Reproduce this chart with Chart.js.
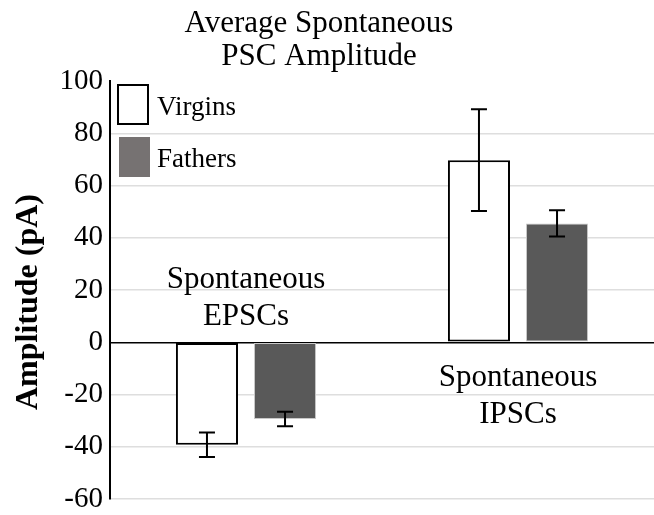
<!DOCTYPE html>
<html>
<head>
<meta charset="utf-8">
<script src="https://cdn.jsdelivr.net/npm/chart.js@4/dist/chart.umd.min.js"></script>
<style>
  body { margin: 0; background: #fff; font-family: "Liberation Serif", serif; }
  #wrap { width: 654px; height: 515px; overflow: hidden; }
</style>
</head>
<body>
<div id="wrap"><canvas id="psc" width="654" height="515"></canvas></div>
<script>
const categories = [["Spontaneous", "EPSCs"], ["Spontaneous", "IPSCs"]];
const virgins = [-39.2, 69.7];
const virginsErr = [4.7, 19.5];
const fathers = [-29.4, 45.5];
const fathersErr = [2.8, 5.0];
const yTicks = [-60, -40, -20, 0, 20, 40, 60, 80, 100];

const serif = "'Liberation Serif'";
const fatherFill = "#595959";
const fatherSwatch = "#767272";

// titles, legend, group labels and error bars
const decor = {
    id: "decor",
    afterDatasetsDraw(chart) {
        const { ctx, scales: { y } } = chart;
        ctx.save();

        // error bars
        ctx.strokeStyle = "#000";
        ctx.lineWidth = 2;
        chart.data.datasets.forEach((ds, i) => {
            chart.getDatasetMeta(i).data.forEach((bar, j) => {
                const v = ds.data[j], e = ds.errors[j];
                const top = y.getPixelForValue(v + e);
                const bot = y.getPixelForValue(v - e);
                ctx.beginPath();
                ctx.moveTo(bar.x, top); ctx.lineTo(bar.x, bot);
                ctx.moveTo(bar.x - 8, top); ctx.lineTo(bar.x + 8, top);
                ctx.moveTo(bar.x - 8, bot); ctx.lineTo(bar.x + 8, bot);
                ctx.stroke();
            });
        });

        ctx.fillStyle = "#000";
        ctx.textBaseline = "alphabetic";

        // group labels: above zero for negative groups, below for positive
        const zero = y.getPixelForValue(0);
        const meta0 = chart.getDatasetMeta(0);
        const meta1 = chart.getDatasetMeta(1);
        ctx.font = "31px " + serif;
        ctx.textAlign = "center";
        categories.forEach((lines, j) => {
            const cx = (meta0.data[j].x + meta1.data[j].x) / 2;
            const base = virgins[j] < 0 ? zero - 54 : zero + 44;
            lines.forEach((t, k) => ctx.fillText(t, cx, base + k * 37));
        });

        // chart title
        ctx.fillText("Average Spontaneous", 319, 32);
        ctx.fillText("PSC Amplitude", 319, 65);

        // y axis title
        ctx.save();
        ctx.translate(37, 302);
        ctx.rotate(-Math.PI / 2);
        ctx.font = "bold 32px " + serif;
        ctx.fillText("Amplitude (pA)", 0, 0);
        ctx.restore();

        // legend
        const lx = 109 + 8;
        ctx.lineWidth = 2;
        ctx.strokeStyle = "#000";
        ctx.strokeRect(lx + 1, 85, 30, 39);
        ctx.fillStyle = fatherSwatch;
        ctx.fillRect(lx + 2, 137, 31, 40);
        ctx.fillStyle = "#000";
        ctx.font = "27px " + serif;
        ctx.textAlign = "left";
        ctx.fillText(chart.data.datasets[0].label, lx + 40, 115);
        ctx.fillText(chart.data.datasets[1].label, lx + 40, 167);

        ctx.restore();
    }
};

function drawChart() {
    new Chart(document.getElementById("psc"), {
        type: "bar",
        data: {
            labels: categories,
            datasets: [
                {
                    label: "Virgins",
                    data: virgins,
                    errors: virginsErr,
                    backgroundColor: "#fff",
                    borderColor: "#000",
                    borderWidth: 2,
                    borderSkipped: false
                },
                {
                    label: "Fathers",
                    data: fathers,
                    errors: fathersErr,
                    backgroundColor: fatherFill,
                    borderColor: "#c8c8c8",
                    borderWidth: 1,
                    borderSkipped: false
                }
            ]
        },
        options: {
            responsive: false,
            animation: false,
            // plot runs a few px past the right edge, as in the original figure
            layout: { padding: { top: 81, bottom: 16, left: 0, right: -4 } },
            categoryPercentage: 0.574,
            barPercentage: 0.795,
            plugins: {
                legend: { display: false },
                title: { display: false },
                tooltip: { enabled: false }
            },
            scales: {
                x: { display: false },
                y: {
                    min: -60,
                    max: 100,
                    afterBuildTicks: (scale) => { scale.ticks = yTicks.map(v => ({ value: v })); },
                    afterFit: (scale) => {
                        scale.width = 110;
                        // let the layout padding alone decide the plot height
                        scale.paddingTop = 0;
                        scale.paddingBottom = 0;
                    },
                    ticks: {
                        color: "#000",
                        padding: 7,
                        font: { family: serif, size: 29, lineHeight: 1 }
                    },
                    grid: {
                        drawTicks: false,
                        lineWidth: 1.5,
                        color: (c) => {
                            if (!c.tick) return "#dedede";
                            if (c.tick.value === 0) return "#000";
                            if (c.tick.value === 100) return "rgba(0,0,0,0)";
                            return "#dedede";
                        }
                    },
                    border: { color: "#000", width: 2 }
                }
            }
        },
        plugins: [decor]
    });
}

// make sure the serif faces are ready before the canvas draws text
Promise.all([
    document.fonts.load("31px 'Liberation Serif'"),
    document.fonts.load("bold 32px 'Liberation Serif'")
]).then(drawChart, drawChart);
</script>
</body>
</html>
